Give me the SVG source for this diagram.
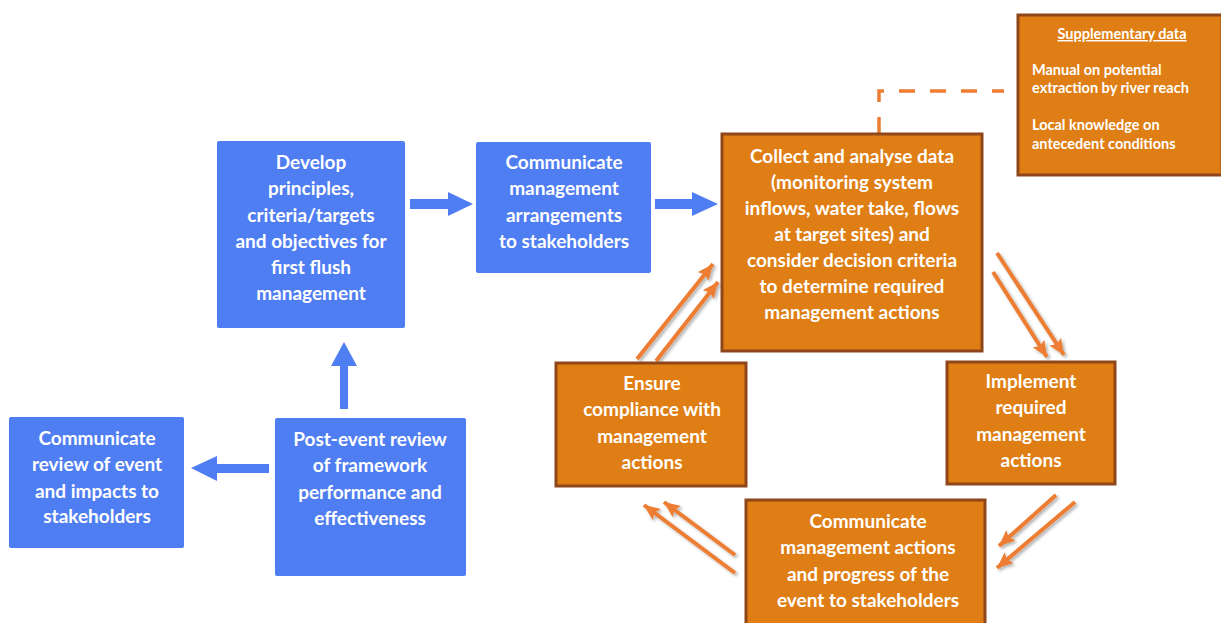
<svg xmlns="http://www.w3.org/2000/svg" width="1221" height="623" viewBox="0 0 1221 623">
<style>
.bb{fill:#4F7DF2;}
.ob{fill:#DF7E14;stroke:#8E461A;stroke-width:3;}
.t{font-family:Lato,"Open Sans","Liberation Sans",sans-serif;font-weight:bold;font-size:19px;fill:#FFFFFF;text-anchor:middle;}
.s{font-family:Lato,"Open Sans","Liberation Sans",sans-serif;font-weight:bold;font-size:14.5px;fill:#FFFFFF;}
.ba{fill:#4F7DF2;}
.oa{stroke:#ED7D31;stroke-width:4;fill:none;marker-end:url(#ah);filter:url(#sh);}
.dash{stroke:#ED7D31;stroke-width:3.5;fill:none;stroke-dasharray:16 15;}
</style>
<defs>
<marker id="ah" markerUnits="userSpaceOnUse" markerWidth="18" markerHeight="14" refX="16" refY="7" orient="auto">
<path d="M0,0 L16,7 L0,14 L3,7 z" fill="#ED7D31"/>
</marker>
<filter id="sh" x="-20%" y="-20%" width="140%" height="140%">
<feDropShadow dx="2" dy="2" stdDeviation="1.5" flood-color="#000000" flood-opacity="0.3"/>
</filter>
</defs>
<rect width="1221" height="623" fill="#FFFFFF"/>

<g id="connectors">
<polygon class="ba" points="410,199 448,199 448,192 473,204 448,216 448,209 410,209"/>
<polygon class="ba" points="655,199 692,199 692,192 718,204 692,216 692,209 655,209"/>
<polygon class="ba" points="340,409 340,366 331,366 344,342 357,366 348,366 348,409"/>
<polygon class="ba" points="269,464 217,464 217,456 191,468 217,481 217,473 269,473"/>
<path class="dash" d="M879,133 L879,91 L1004,91"/>
<line class="oa" x1="637" y1="359" x2="713" y2="264"/>
<line class="oa" x1="656" y1="361" x2="718" y2="282"/>
<line class="oa" x1="997" y1="253" x2="1064" y2="355"/>
<line class="oa" x1="993" y1="272" x2="1047" y2="357"/>
<line class="oa" x1="1056" y1="495" x2="999" y2="546"/>
<line class="oa" x1="1075" y1="502" x2="997" y2="568"/>
<line class="oa" x1="735" y1="555" x2="664" y2="502"/>
<line class="oa" x1="735" y1="573" x2="644" y2="505"/>
</g>

<g id="develop">
<rect class="bb" x="217" y="141" width="188" height="187" rx="2"/>
<text class="t" x="311" y="169">Develop</text>
<text class="t" x="311" y="195">principles,</text>
<text class="t" x="311" y="222">criteria/targets</text>
<text class="t" x="311" y="248">and objectives for</text>
<text class="t" x="311" y="274">first flush</text>
<text class="t" x="311" y="300">management</text>
</g>

<g id="communicate-arrangements">
<rect class="bb" x="476" y="142" width="175" height="131" rx="2"/>
<text class="t" x="564" y="169">Communicate</text>
<text class="t" x="564" y="195">management</text>
<text class="t" x="564" y="222">arrangements</text>
<text class="t" x="564" y="248">to stakeholders</text>
</g>

<g id="communicate-review">
<rect class="bb" x="9" y="417" width="175" height="131" rx="2"/>
<text class="t" x="97" y="445">Communicate</text>
<text class="t" x="97" y="471">review of event</text>
<text class="t" x="97" y="498">and impacts to</text>
<text class="t" x="97" y="523">stakeholders</text>
</g>

<g id="post-event">
<rect class="bb" x="275" y="418" width="191" height="158" rx="2"/>
<text class="t" x="370" y="446">Post-event review</text>
<text class="t" x="370" y="472">of framework</text>
<text class="t" x="370" y="499">performance and</text>
<text class="t" x="370" y="525">effectiveness</text>
</g>

<g id="collect">
<rect class="ob" x="722" y="134" width="260" height="217"/>
<text class="t" x="852" y="163">Collect and analyse data</text>
<text class="t" x="852" y="189">(monitoring system</text>
<text class="t" x="852" y="215">inflows, water take, flows</text>
<text class="t" x="852" y="241">at target sites) and</text>
<text class="t" x="852" y="267">consider decision criteria</text>
<text class="t" x="852" y="293">to determine required</text>
<text class="t" x="852" y="319">management actions</text>
</g>

<g id="supplementary">
<rect class="ob" x="1018" y="15" width="204" height="160"/>
<text class="s" x="1122" y="39" text-anchor="middle" text-decoration="underline">Supplementary data</text>
<text class="s" x="1032" y="75">Manual on potential</text>
<text class="s" x="1032" y="93">extraction by river reach</text>
<text class="s" x="1032" y="130">Local knowledge on</text>
<text class="s" x="1032" y="149">antecedent conditions</text>
</g>

<g id="ensure">
<rect class="ob" x="556" y="363" width="190" height="123"/>
<text class="t" x="652" y="390">Ensure</text>
<text class="t" x="652" y="416">compliance with</text>
<text class="t" x="652" y="443">management</text>
<text class="t" x="652" y="469">actions</text>
</g>

<g id="implement">
<rect class="ob" x="947" y="362" width="168" height="122"/>
<text class="t" x="1031" y="388">Implement</text>
<text class="t" x="1031" y="414">required</text>
<text class="t" x="1031" y="441">management</text>
<text class="t" x="1031" y="467">actions</text>
</g>

<g id="communicate-actions">
<rect class="ob" x="746" y="500" width="239" height="130"/>
<text class="t" x="868" y="528">Communicate</text>
<text class="t" x="868" y="554">management actions</text>
<text class="t" x="868" y="581">and progress of the</text>
<text class="t" x="868" y="607">event to stakeholders</text>
</g>
</svg>
